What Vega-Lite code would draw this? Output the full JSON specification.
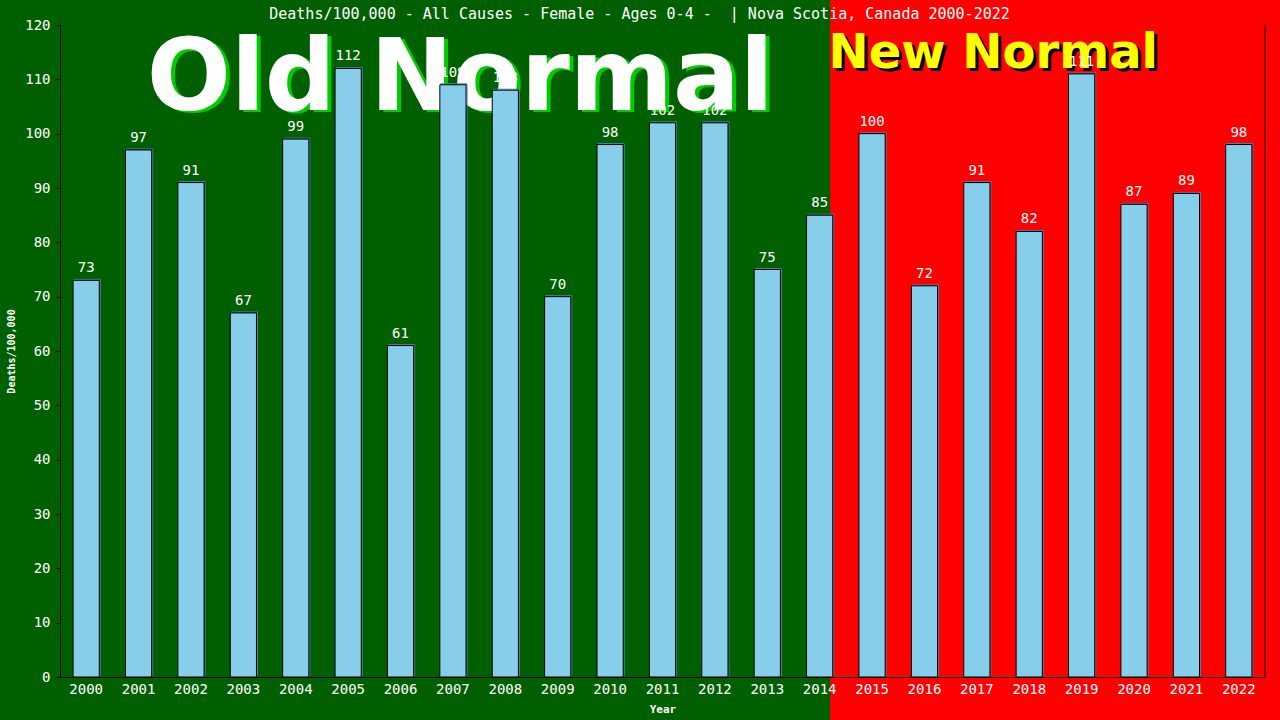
{
  "$schema": "https://vega.github.io/schema/vega-lite/v6.json",
  "width": 1205,
  "height": 652,
  "autosize": {"type": "none"},
  "padding": {"left": 60, "top": 25, "right": 15, "bottom": 43},
  "background": "#006000",
  "title": {
    "text": "Deaths/100,000 - All Causes - Female - Ages 0-4 -\u00a0 | Nova Scotia, Canada 2000-2022",
    "color": "white",
    "font": "DejaVu Sans Mono",
    "fontSize": 15,
    "fontWeight": "normal",
    "anchor": "middle",
    "frame": "group",
    "baseline": "alphabetic",
    "offset": 0,
    "dy": 34,
    "dx": -23
  },
  "config": {
    "view": {"stroke": null},
    "axis": {"zindex": 1, "grid": false}
  },
  "data": {
    "values": [
      {"year": "2000", "deaths": 73},
      {"year": "2001", "deaths": 97},
      {"year": "2002", "deaths": 91},
      {"year": "2003", "deaths": 67},
      {"year": "2004", "deaths": 99},
      {"year": "2005", "deaths": 112},
      {"year": "2006", "deaths": 61},
      {"year": "2007", "deaths": 109},
      {"year": "2008", "deaths": 108},
      {"year": "2009", "deaths": 70},
      {"year": "2010", "deaths": 98},
      {"year": "2011", "deaths": 102},
      {"year": "2012", "deaths": 102},
      {"year": "2013", "deaths": 75},
      {"year": "2014", "deaths": 85},
      {"year": "2015", "deaths": 100},
      {"year": "2016", "deaths": 72},
      {"year": "2017", "deaths": 91},
      {"year": "2018", "deaths": 82},
      {"year": "2019", "deaths": 111},
      {"year": "2020", "deaths": 87},
      {"year": "2021", "deaths": 89},
      {"year": "2022", "deaths": 98}
    ]
  },
  "resolve": {"scale": {"x": "independent"}, "axis": {"x": "independent", "y": "independent"}},
  "layer": [
    {
      "data": {"values": [{"from": 2014.2, "to": 2035, "lo": -30, "hi": 124.6}]},
      "mark": {"type": "rect", "fill": "#ff0000", "clip": false},
      "encoding": {
        "x": {"field": "from", "type": "quantitative", "scale": {"domain": [1999.5, 2022.5], "nice": false, "zero": false}, "axis": null},
        "x2": {"field": "to"},
        "y": {"field": "lo", "type": "quantitative", "scale": {"domain": [0, 120], "nice": false, "zero": false}, "axis": null},
        "y2": {"field": "hi"}
      }
    },
    {
      "data": {"values": [{"label": "Old Normal", "pos": 2007.14, "level": 104.4}]},
      "mark": {"type": "text", "font": "DejaVu Sans", "fontWeight": "bold", "fontSize": 99, "fill": "#00cc00", "align": "center", "baseline": "alphabetic", "dx": 4, "dy": 2},
      "encoding": {
        "x": {"field": "pos", "type": "quantitative", "scale": {"domain": [1999.5, 2022.5], "nice": false, "zero": false}, "axis": null},
        "y": {"field": "level", "type": "quantitative", "axis": null},
        "text": {"field": "label"}
      }
    },
    {
      "data": {"values": [{"label": "Old Normal", "pos": 2007.14, "level": 104.4}]},
      "mark": {"type": "text", "font": "DejaVu Sans", "fontWeight": "bold", "fontSize": 99, "fill": "#ffffff", "align": "center", "baseline": "alphabetic"},
      "encoding": {
        "x": {"field": "pos", "type": "quantitative", "scale": {"domain": [1999.5, 2022.5], "nice": false, "zero": false}, "axis": null},
        "y": {"field": "level", "type": "quantitative", "axis": null},
        "text": {"field": "label"}
      }
    },
    {
      "data": {"values": [{"label": "New Normal", "pos": 2014.17, "level": 112.1}]},
      "mark": {"type": "text", "font": "DejaVu Sans", "fontWeight": "bold", "fontSize": 48, "fill": "#000000", "align": "left", "baseline": "alphabetic", "dx": 3, "dy": 3},
      "encoding": {
        "x": {"field": "pos", "type": "quantitative", "scale": {"domain": [1999.5, 2022.5], "nice": false, "zero": false}, "axis": null},
        "y": {"field": "level", "type": "quantitative", "axis": null},
        "text": {"field": "label"}
      }
    },
    {
      "data": {"values": [{"label": "New Normal", "pos": 2014.17, "level": 112.1}]},
      "mark": {"type": "text", "font": "DejaVu Sans", "fontWeight": "bold", "fontSize": 48, "fill": "#ffff00", "align": "left", "baseline": "alphabetic"},
      "encoding": {
        "x": {"field": "pos", "type": "quantitative", "scale": {"domain": [1999.5, 2022.5], "nice": false, "zero": false}, "axis": null},
        "y": {"field": "level", "type": "quantitative", "axis": null},
        "text": {"field": "label"}
      }
    },
    {
      "data": {"values": [{"edge": 2022.5, "lo": 0, "hi": 120}]},
      "mark": {"type": "rule", "color": "#000000", "strokeWidth": 1},
      "encoding": {
        "x": {"field": "edge", "type": "quantitative", "scale": {"domain": [1999.5, 2022.5], "nice": false, "zero": false}, "axis": null},
        "y": {"field": "lo", "type": "quantitative", "axis": null},
        "y2": {"field": "hi"}
      }
    },
    {
      "mark": {"type": "bar", "fill": null, "stroke": "#4a7fa8", "strokeWidth": 1, "xOffset": 1, "yOffset": -1},
      "encoding": {
        "x": {"field": "year", "type": "ordinal", "scale": {"paddingInner": 0.5, "paddingOuter": 0.25}, "axis": null},
        "y": {"field": "deaths", "type": "quantitative", "axis": null}
      }
    },
    {
      "mark": {"type": "bar", "fill": "#87ceeb", "stroke": "#000000", "strokeWidth": 1},
      "encoding": {
        "x": {
          "field": "year", "type": "ordinal",
          "scale": {"paddingInner": 0.5, "paddingOuter": 0.25},
          "axis": {
            "title": "Year", "titleColor": "white", "titleFont": "DejaVu Sans Mono", "titleFontSize": 11, "titleFontWeight": "bold", "titlePadding": 7,
            "labelColor": "white", "labelFont": "DejaVu Sans Mono", "labelFontSize": 14, "labelAngle": 0, "labelPadding": 5,
            "ticks": false, "domainColor": "#000000", "domainWidth": 1, "zindex": 1
          }
        },
        "y": {
          "field": "deaths", "type": "quantitative",
          "axis": {
            "title": "Deaths/100,000", "titleColor": "white", "titleFont": "DejaVu Sans Mono", "titleFontSize": 10, "titleFontWeight": "bold", "titlePadding": 8,
            "values": [0, 10, 20, 30, 40, 50, 60, 70, 80, 90, 100, 110, 120],
            "labelColor": "white", "labelFont": "DejaVu Sans Mono", "labelFontSize": 14, "labelPadding": 5,
            "tickColor": "#000000", "tickSize": 5, "domainColor": "#000000", "zindex": 1
          }
        }
      }
    },
    {
      "mark": {"type": "text", "font": "DejaVu Sans Mono", "fontSize": 14, "fill": "white", "baseline": "bottom", "dy": -5},
      "encoding": {
        "x": {"field": "year", "type": "ordinal", "scale": {"paddingInner": 0.5, "paddingOuter": 0.25}, "axis": null},
        "y": {"field": "deaths", "type": "quantitative", "axis": null},
        "text": {"field": "deaths"}
      }
    }
  ]
}
